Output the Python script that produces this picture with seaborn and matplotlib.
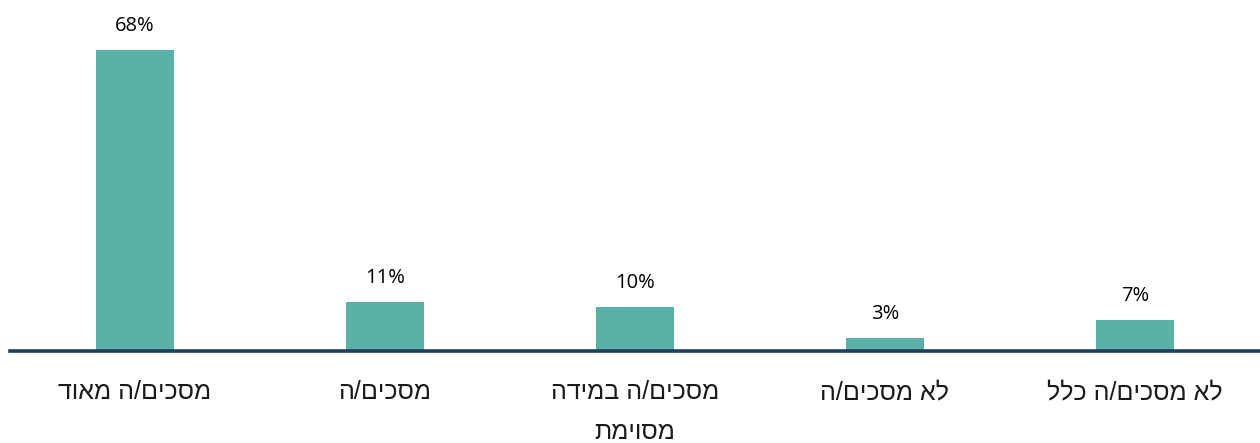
import matplotlib
matplotlib.use("Agg")
import matplotlib.pyplot as plt
import seaborn as sns
import pandas as pd

categories = ["מסכים/ה מאוד", "מסכים/ה", "מסכים/ה במידה\nמסוימת", "לא מסכים/ה", "לא מסכים/ה כלל"]
values = [68, 11, 10, 3, 7]
value_labels = ["68%", "11%", "10%", "3%", "7%"]

BAR_COLOR = "#5BB1A7"
LINE_COLOR = "#1C4159"


def visual(s):
    # matplotlib has no bidi: reverse each line of Hebrew text for display
    return "\n".join(line[::-1] for line in s.split("\n"))


sns.set_theme(style="white")
plt.rcParams["font.family"] = ["Open Sans", "DejaVu Sans"]

fig = plt.figure(figsize=(12.6, 4.43), dpi=100)
ax = fig.add_axes([10 / 1260, 92 / 443, 1250 / 1260, 351 / 443])

df = pd.DataFrame({"cat": categories, "val": values})
sns.barplot(data=df, x="cat", y="val", color=BAR_COLOR, width=0.312,
            saturation=1, linewidth=0, ax=ax)

ax.set_xlim(-0.5, 4.5)
ax.set_ylim(0, 79.2)

for i, (v, lab) in enumerate(zip(values, value_labels)):
    ax.annotate(lab, (i, v), xytext=(0, 10), textcoords="offset points",
                ha="center", va="bottom", fontsize=14.5, color="#000000")

ax.set_xticks(range(len(categories)))
ax.set_xticklabels([visual(c) for c in categories], fontsize=18,
                   color="#1a1a1a", linespacing=1.85, va="top",
                   family=["Liberation Sans", "DejaVu Sans"])
ax.tick_params(axis="x", length=0, pad=21)
ax.set_yticks([])
ax.set_xlabel("")
ax.set_ylabel("")

for side in ["top", "left", "right"]:
    ax.spines[side].set_visible(False)
ax.spines["bottom"].set_color(LINE_COLOR)
ax.spines["bottom"].set_linewidth(2.6)

fig.savefig("out.png", dpi=100, facecolor="white")
